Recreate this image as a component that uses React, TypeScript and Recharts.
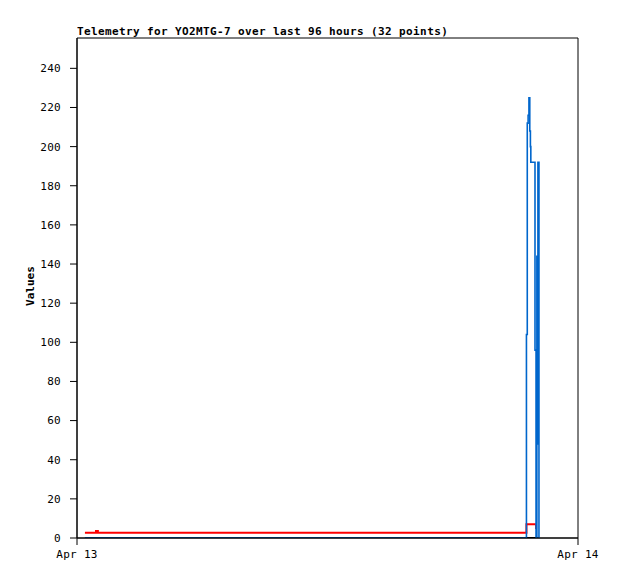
import React from "react";
import {
    LineChart,
    Line,
    XAxis,
    YAxis,
    ReferenceArea,
} from "recharts";

// hours since Apr 13 00:00
const hours = [0.38, 0.91, 1.0, 21.53, 21.57, 21.61, 21.65, 21.69, 21.72, 21.74, 21.94, 21.99, 22.03, 22.05, 22.08, 22.13];
const blueValues = [0, 0, 0, 104, 212, 216, 225, 208, 200, 192, 96, 0, 144, 48, 192, 0];
const redValues = [2.7, 3.6, 2.7, 7, 7, 7, 7, 7, 7, 7, 7, 4.6, null, null, null, null];
const blackValues = [0, 0, 0, 0, 0, 0, 0, 0, 0, 0, 0, 0, 0, 0, 0, 0];

const yTicks = [0, 20, 40, 60, 80, 100, 120, 140, 160, 180, 200, 220, 240];
const xTicks = [0, 24];
const xTickLabels = ["Apr 13", "Apr 14"];

const title = "Telemetry for YO2MTG-7 over last 96 hours (32 points)";
const yLabel = "Values";

const rows = hours.map((h, i) => ({
    t: h,
    blue: blueValues[i],
    red: redValues[i],
    black: blackValues[i],
}));

const mono = "'DejaVu Sans Mono', monospace";
const tickStyle = { fontFamily: mono, fontSize: 11, fill: "#000", letterSpacing: 0.3 };

export default function App() {
    return (
        <div style={{ position: "absolute", left: 0, top: 0, width: 618, height: 579, background: "#fff" }}>
            <LineChart
                width={618}
                height={579}
                data={rows}
                margin={{ top: 38, right: 40, left: 0, bottom: 11 }}
            >
                <ReferenceArea
                    x1={0}
                    x2={24}
                    y1={0}
                    y2={255.5}
                    fill="none"
                    stroke="#000"
                    strokeWidth={1}
                />
                <XAxis
                    dataKey="t"
                    type="number"
                    domain={[0, 24]}
                    ticks={xTicks}
                    tickFormatter={(v: number) => xTickLabels[xTicks.indexOf(v)] ?? ""}
                    height={30}
                    tickSize={7}
                    tickMargin={5}
                    stroke="#000"
                    tick={tickStyle}
                    allowDataOverflow
                    interval={0}
                />
                <YAxis
                    type="number"
                    domain={[0, 255.5]}
                    ticks={yTicks}
                    width={77}
                    tickSize={7}
                    tickMargin={9}
                    stroke="#000"
                    tick={tickStyle}
                    allowDataOverflow
                    interval={0}
                />
                <Line
                    dataKey="black"
                    type="stepAfter"
                    stroke="#000000"
                    strokeWidth={2}
                    dot={false}
                    isAnimationActive={false}
                />
                <Line
                    dataKey="red"
                    type="stepAfter"
                    stroke="#ff0000"
                    strokeWidth={2}
                    dot={false}
                    isAnimationActive={false}
                />
                <Line
                    dataKey="blue"
                    type="stepAfter"
                    stroke="#0066cc"
                    strokeWidth={1.6}
                    dot={false}
                    isAnimationActive={false}
                />
            </LineChart>
            <svg
                width={618}
                height={579}
                style={{ position: "absolute", left: 0, top: 0, pointerEvents: "none" }}
            >
                <text
                    x={77}
                    y={35}
                    fontFamily={mono}
                    fontSize={11}
                    fontWeight="bold"
                    letterSpacing={0.38}
                    fill="#000"
                >
                    {title}
                </text>
                <text
                    x={34}
                    y={286}
                    transform="rotate(-90 34 286)"
                    textAnchor="middle"
                    fontFamily={mono}
                    fontSize={11}
                    fontWeight="bold"
                    fill="#000"
                >
                    {yLabel}
                </text>
            </svg>
        </div>
    );
}
